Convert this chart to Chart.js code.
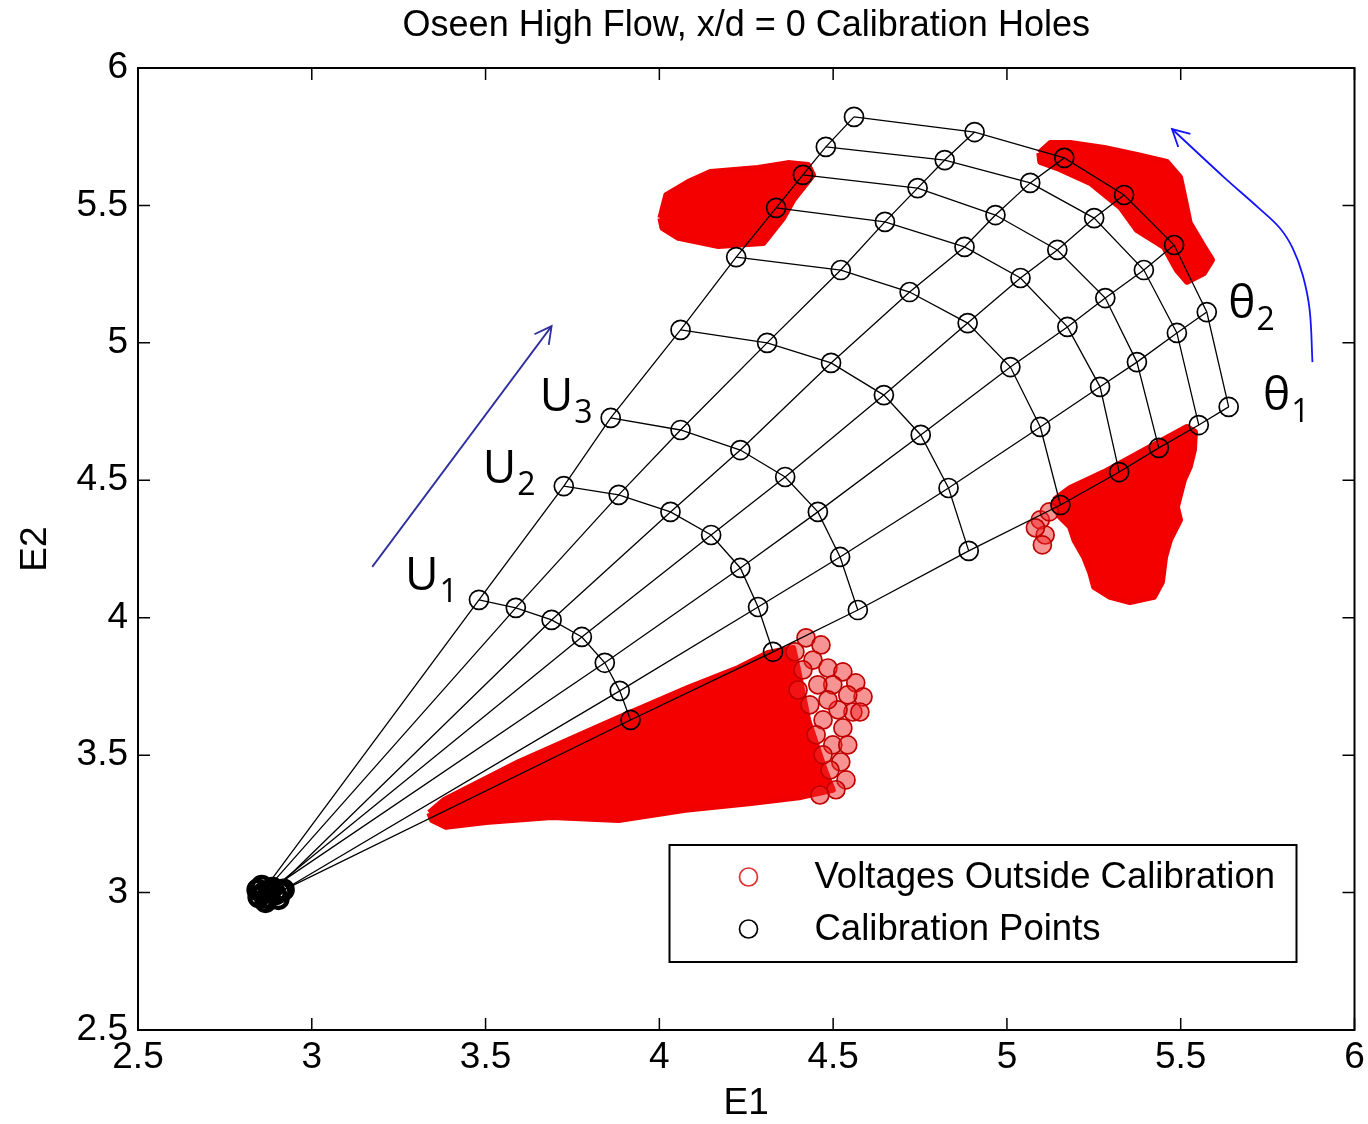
<!DOCTYPE html>
<html>
<head>
<meta charset="utf-8">
<script src="https://cdn.jsdelivr.net/npm/chart.js@4.4.1/dist/chart.umd.min.js"></script>
<style>
  html, body { margin: 0; padding: 0; background: #fff; }
</style>
</head>
<body>
<canvas id="chart" width="1368" height="1124"></canvas>
<script>
// zero-flow points, one per theta line, plus the rest of the cluster
const originE1 = [2.896, 2.910, 2.887, 2.879, 2.870, 2.861, 2.847];
const originE2 = [2.995, 3.003, 3.017, 3.006, 2.981, 2.999, 2.984];
const zeroE1 = [2.844, 2.856, 2.904, 2.919, 2.867];
const zeroE2 = [3.010, 3.024, 2.977, 3.010, 2.966];

// calibration points along each theta line, U1 .. U9
const th1E1 = [3.917, 4.327, 4.571, 4.890, 5.154, 5.323, 5.437, 5.552, 5.638];
const th1E2 = [3.628, 3.876, 4.028, 4.243, 4.410, 4.530, 4.618, 4.701, 4.767];
const th2E1 = [3.886, 4.284, 4.520, 4.832, 5.096, 5.268, 5.374, 5.489, 5.575];
const th2E2 = [3.734, 4.039, 4.221, 4.472, 4.694, 4.840, 4.930, 5.036, 5.112];
const th3E1 = [3.843, 4.233, 4.456, 4.752, 5.010, 5.174, 5.283, 5.394, 5.481];
const th3E2 = [3.836, 4.181, 4.385, 4.665, 4.912, 5.058, 5.163, 5.265, 5.356];
const th4E1 = [3.777, 4.149, 4.362, 4.646, 4.887, 5.039, 5.145, 5.251, 5.337];
const th4E2 = [3.930, 4.301, 4.512, 4.810, 5.072, 5.236, 5.338, 5.454, 5.538];
const th5E1 = [3.690, 4.032, 4.233, 4.494, 4.720, 4.878, 4.967, 5.067, 5.165];
const th5E2 = [3.992, 4.385, 4.610, 4.927, 5.185, 5.349, 5.465, 5.582, 5.673];
const th6E1 = [3.587, 3.883, 4.061, 4.310, 4.522, 4.649, 4.743, 4.821, 4.907];
const th6E2 = [4.036, 4.447, 4.683, 5.000, 5.265, 5.440, 5.563, 5.665, 5.767];
const th7E1 = [3.481, 3.725, 3.860, 4.061, 4.221, 4.336, 4.413, 4.479, 4.560];
const th7E2 = [4.065, 4.479, 4.727, 5.047, 5.312, 5.491, 5.611, 5.713, 5.822];

// voltages outside calibration: outlines of the dense clouds
const blobAE1 = [4.003, 4.020, 4.083, 4.147, 4.284, 4.370, 4.428, 4.442, 4.385, 4.356, 4.299, 4.170, 4.055, 4.009, 4.003];
const blobAE2 = [5.454, 5.538, 5.585, 5.622, 5.636, 5.654, 5.647, 5.611, 5.520, 5.454, 5.363, 5.352, 5.382, 5.418, 5.454];
const blobBE1 = [5.093, 5.125, 5.182, 5.280, 5.374, 5.460, 5.498, 5.512, 5.526, 5.567, 5.590, 5.567, 5.518, 5.489, 5.452, 5.374, 5.326, 5.240, 5.145, 5.096, 5.093];
const blobBE2 = [5.691, 5.727, 5.727, 5.709, 5.684, 5.658, 5.603, 5.520, 5.436, 5.349, 5.302, 5.254, 5.222, 5.265, 5.349, 5.411, 5.494, 5.582, 5.636, 5.658, 5.691];
const blobCE1 = [5.136, 5.182, 5.280, 5.423, 5.518, 5.541, 5.538, 5.526, 5.509, 5.489, 5.498, 5.469, 5.455, 5.446, 5.423, 5.354, 5.297, 5.251, 5.240, 5.222, 5.194, 5.182, 5.153, 5.136, 5.136];
const blobCE2 = [4.429, 4.472, 4.530, 4.629, 4.694, 4.676, 4.610, 4.549, 4.501, 4.403, 4.356, 4.283, 4.221, 4.130, 4.076, 4.057, 4.076, 4.112, 4.163, 4.221, 4.283, 4.330, 4.367, 4.403, 4.429];
const blobDE1 = [3.338, 3.381, 3.596, 3.883, 4.083, 4.227, 4.313, 4.385, 4.399, 4.428, 4.476, 4.499, 4.408, 4.264, 4.075, 3.883, 3.690, 3.501, 3.386, 3.346, 3.338];
const blobDE2 = [3.290, 3.337, 3.475, 3.636, 3.745, 3.817, 3.872, 3.890, 3.810, 3.628, 3.446, 3.374, 3.348, 3.326, 3.301, 3.264, 3.275, 3.257, 3.239, 3.264, 3.290];
// loose circles at the cloud edges
const fringeE1 = [4.422, 4.465, 4.390, 4.442, 4.485, 4.413, 4.528, 4.565, 4.586, 4.542, 4.499, 4.456, 4.557, 4.514, 4.471, 4.528, 4.499, 4.542, 4.522, 4.491, 4.537, 4.508, 4.462, 4.471, 4.451, 4.433, 4.577, 4.399, 4.485];
const fringeE2 = [3.927, 3.901, 3.876, 3.846, 3.817, 3.810, 3.803, 3.763, 3.712, 3.719, 3.756, 3.756, 3.657, 3.665, 3.628, 3.599, 3.537, 3.537, 3.475, 3.446, 3.410, 3.374, 3.355, 3.501, 3.574, 3.683, 3.657, 3.737, 3.701];
const strayE1 = [5.096, 5.110, 5.082, 5.102, 5.122];
const strayE2 = [4.356, 4.301, 4.327, 4.265, 4.385];

// annotations
const arrowUE1 = [3.174, 3.690];
const arrowUE2 = [4.185, 5.061];
const arrowThE1 = [5.879, 5.871, 5.851, 5.822, 5.785, 5.724, 5.624, 5.475];
const arrowThE2 = [4.930, 5.120, 5.247, 5.345, 5.418, 5.491, 5.603, 5.778];
const labelMain = ['U', 'U', 'U', 'θ', 'θ'];
const labelSub = ['1', '2', '3', '2', '1'];
const labelE1 = [3.268, 3.492, 3.656, 5.637, 5.737];
const labelE2 = [4.101, 4.490, 4.752, 5.091, 4.756];

const xTicks = [2.5, 3, 3.5, 4, 4.5, 5, 5.5, 6];
const yTicks = [2.5, 3, 3.5, 4, 4.5, 5, 5.5, 6];

const FONT = "'Liberation Sans', Arial, sans-serif";
const pts = (xs, ys) => xs.map((x, i) => ({ x: x, y: ys[i] }));

const thE1 = [th1E1, th2E1, th3E1, th4E1, th5E1, th6E1, th7E1];
const thE2 = [th1E2, th2E2, th3E2, th4E2, th5E2, th6E2, th7E2];

const datasets = [];

// red clouds, drawn first
[[blobAE1, blobAE2], [blobBE1, blobBE2], [blobCE1, blobCE2], [blobDE1, blobDE2]].forEach(b => {
  datasets.push({
    label: 'Voltages Outside Calibration',
    data: pts(b[0], b[1]),
    showLine: true, fill: 'shape',
    backgroundColor: '#f40000', borderColor: '#f00000', borderWidth: 6,
    borderJoinStyle: 'round', pointRadius: 0, order: 6
  });
});
datasets.push({
  label: 'Voltages Outside Calibration',
  data: pts(fringeE1, fringeE2).concat(pts(strayE1, strayE2)),
  showLine: false, pointRadius: 9, pointBorderWidth: 1.7,
  pointBorderColor: '#c00000', pointBackgroundColor: 'rgba(240,40,40,0.5)', order: 5
});

// theta lines from zero flow through U1..U9
thE1.forEach((xs, k) => {
  datasets.push({
    data: [{ x: originE1[k], y: originE2[k] }].concat(pts(xs, thE2[k])),
    showLine: true, borderColor: '#000', borderWidth: 1.3, pointRadius: 0, order: 3
  });
});
// constant-U lines across theta
for (let j = 0; j < th1E1.length; j++) {
  datasets.push({
    data: thE1.map((xs, k) => ({ x: xs[j], y: thE2[k][j] })),
    showLine: true, borderColor: '#000', borderWidth: 1.3, pointRadius: 0, order: 3
  });
}
// calibration points
let calib = [];
thE1.forEach((xs, k) => { calib = calib.concat(pts(xs, thE2[k])); });
datasets.push({
  label: 'Calibration Points',
  data: calib, showLine: false,
  pointRadius: 9.5, pointBorderWidth: 1.7, pointBorderColor: '#000',
  pointBackgroundColor: 'rgba(0,0,0,0)', order: 2
});
// zero-flow cluster (heavily overplotted in the original)
datasets.push({
  label: 'Calibration Points',
  data: pts(originE1, originE2).concat(pts(zeroE1, zeroE2)), showLine: false,
  pointRadius: 9, pointBorderWidth: 4.5, pointBorderColor: '#000',
  pointBackgroundColor: 'rgba(0,0,0,0)', order: 2
});

// annotation arrows
datasets.push({
  data: pts(arrowUE1, arrowUE2), showLine: true,
  borderColor: '#2e2e9e', borderWidth: 1.8, pointRadius: 0, order: 1
});
datasets.push({
  data: pts(arrowThE1, arrowThE2), showLine: true, tension: 0.35,
  borderColor: '#1414ff', borderWidth: 1.8, pointRadius: 0, order: 1
});

function arrowHead(ctx, tx, ty, fx, fy, color) {
  const a = Math.atan2(fy - ty, fx - tx);
  const len = 19, spread = 28 * Math.PI / 180;
  ctx.strokeStyle = color;
  ctx.lineWidth = 1.8;
  ctx.beginPath();
  ctx.moveTo(tx + len * Math.cos(a + spread), ty + len * Math.sin(a + spread));
  ctx.lineTo(tx, ty);
  ctx.lineTo(tx + len * Math.cos(a - spread), ty + len * Math.sin(a - spread));
  ctx.stroke();
}

const marks = {
  id: 'marks',
  afterDatasetsDraw(chart) {
    const { ctx, scales: { x, y } } = chart;
    ctx.save();
    const n1 = arrowUE1.length - 1;
    arrowHead(ctx, x.getPixelForValue(arrowUE1[n1]), y.getPixelForValue(arrowUE2[n1]),
      x.getPixelForValue(arrowUE1[n1 - 1]), y.getPixelForValue(arrowUE2[n1 - 1]), '#2e2e9e');
    const n2 = arrowThE1.length - 1;
    arrowHead(ctx, x.getPixelForValue(arrowThE1[n2]), y.getPixelForValue(arrowThE2[n2]),
      x.getPixelForValue(arrowThE1[n2 - 1]), y.getPixelForValue(arrowThE2[n2 - 1]), '#1414ff');

    ctx.fillStyle = '#000';
    ctx.textBaseline = 'alphabetic';
    ctx.textAlign = 'left';
    labelMain.forEach((t, i) => {
      const px = x.getPixelForValue(labelE1[i]);
      const py = y.getPixelForValue(labelE2[i]);
      ctx.font = "46px 'Open Sans', 'Noto Sans', sans-serif";
      ctx.fillText(t, px, py);
      const w = ctx.measureText(t).width;
      ctx.font = "32px 'Open Sans', 'Noto Sans', sans-serif";
      ctx.fillText(labelSub[i], px + w + 1, py + 12);
    });
    ctx.restore();
  },
  afterDraw(chart) {
    const { ctx, chartArea: a, scales: { x, y } } = chart;
    ctx.save();
    // title
    ctx.fillStyle = '#000';
    ctx.font = '36px ' + FONT;
    ctx.textAlign = 'center';
    ctx.textBaseline = 'middle';
    ctx.fillText('Oseen High Flow, x/d = 0 Calibration Holes', (a.left + a.right) / 2, 26);
    // box and inner ticks on all sides
    ctx.strokeStyle = '#000';
    ctx.lineWidth = 2;
    ctx.strokeRect(a.left, a.top, a.right - a.left, a.bottom - a.top);
    ctx.lineWidth = 1.5;
    ctx.beginPath();
    x.ticks.forEach(t => {
      const p = x.getPixelForValue(t.value);
      ctx.moveTo(p, a.bottom); ctx.lineTo(p, a.bottom - 12);
      ctx.moveTo(p, a.top); ctx.lineTo(p, a.top + 12);
    });
    y.ticks.forEach(t => {
      const p = y.getPixelForValue(t.value);
      ctx.moveTo(a.left, p); ctx.lineTo(a.left + 12, p);
      ctx.moveTo(a.right, p); ctx.lineTo(a.right - 12, p);
    });
    ctx.stroke();

    // legend box
    const left = a.right - 685, top = a.bottom - 185, w = 627, h = 117;
    ctx.fillStyle = '#fff';
    ctx.fillRect(left, top, w, h);
    ctx.lineWidth = 2;
    ctx.strokeRect(left, top, w, h);
    const entries = [['Voltages Outside Calibration', '#e03030'], ['Calibration Points', '#000']];
    entries.forEach((e, i) => {
      const cy = top + 32 + i * 52;
      ctx.beginPath();
      ctx.arc(left + 79, cy, 9, 0, Math.PI * 2);
      ctx.strokeStyle = e[1];
      ctx.lineWidth = 1.7;
      ctx.stroke();
      ctx.fillStyle = '#000';
      ctx.font = '36.5px ' + FONT;
      ctx.textAlign = 'left';
      ctx.textBaseline = 'middle';
      ctx.fillText(e[0], left + 145, cy + 1);
    });
    ctx.restore();
  }
};

const tickFont = { family: FONT, size: 37, lineHeight: 1.2 };

new Chart(document.getElementById('chart'), {
  type: 'scatter',
  data: { datasets: datasets },
  options: {
    responsive: false,
    animation: false,
    devicePixelRatio: 1,
    layout: { padding: { left: 0, right: 10, top: 68, bottom: 0 } },
    plugins: {
      legend: { display: false },
      tooltip: { enabled: false },
      title: { display: false }
    },
    scales: {
      x: {
        type: 'linear', min: 2.5, max: 6,
        afterBuildTicks: s => { s.ticks = xTicks.map(v => ({ value: v })); },
        ticks: { color: '#000', font: tickFont, padding: 6, callback: v => String(v) },
        grid: { display: false, drawTicks: false },
        border: { display: false },
        title: { display: true, text: 'E1', color: '#000', font: { family: FONT, size: 37, lineHeight: 1 }, padding: { top: 0, bottom: 2 } },
        afterFit: s => { s.height = 94; s.paddingLeft = 0; s.paddingRight = 0; }
      },
      y: {
        type: 'linear', min: 2.5, max: 6,
        afterBuildTicks: s => { s.ticks = yTicks.map(v => ({ value: v })); },
        ticks: { color: '#000', font: tickFont, padding: 10, callback: v => String(v) },
        grid: { display: false, drawTicks: false },
        border: { display: false },
        title: { display: true, text: 'E2', color: '#000', font: { family: FONT, size: 37, lineHeight: 1 }, padding: { top: 17, bottom: 0 } },
        afterFit: s => { s.width = 138; s.paddingTop = 0; s.paddingBottom = 0; }
      }
    }
  },
  plugins: [marks]
});
</script>
</body>
</html>
